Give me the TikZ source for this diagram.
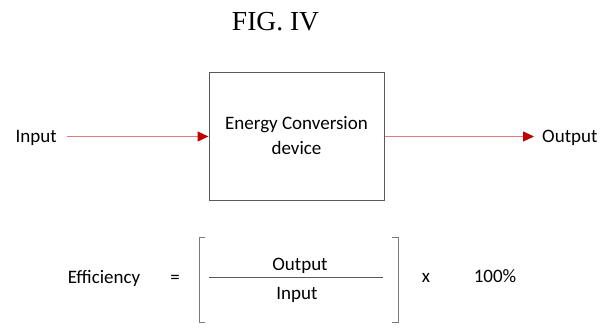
\documentclass[tikz,border=0pt]{standalone}
\usepackage{fontspec}
\setmainfont{Carlito}
\newfontfamily\titlefont{Liberation Serif}
\usetikzlibrary{arrows.meta}
\definecolor{lineRed}{HTML}{E37B7B}
\definecolor{tipRed}{HTML}{C00000}
\definecolor{boxGray}{HTML}{595959}
\tikzset{
  lbl/.style={font=\fontsize{19}{22}\selectfont, text=black, inner sep=0pt},
  flow/.style={draw=lineRed, line width=1.2pt, -{Triangle[length=11pt,width=10pt,color=tipRed,fill=tipRed]}},
  devbox/.style={draw=boxGray, line width=1pt, minimum width=175pt, minimum height=128pt, align=center, inner sep=0pt, font=\fontsize{19}{25}\selectfont},
  brk/.style={draw=boxGray!80, line width=0.9pt},
}
\begin{document}
\begin{tikzpicture}[x=1pt,y=-1pt]
\useasboundingbox (0,0) rectangle (607,329);
\node[font=\titlefont\fontsize{27.5}{30}\selectfont, anchor=base, inner sep=0pt] (title) at (275.5,31) {FIG. IV};
\node[devbox] (box) at (296.5,136) {Energy Conversion\\device};
\node[lbl, anchor=base east] (in) at (57,142.5) {Input};
\node[lbl, anchor=base west] (out) at (542,142) {Output};
\coordinate (inS) at (67,136.5);
\coordinate (outE) at (534,136.5);
\draw[flow] (inS) -- (box.west |- inS);
\draw[flow] (box.east |- outE) -- (outE);
% equation
\node[lbl, anchor=base] (eff) at (104,283) {Efficiency};
\node[lbl, anchor=base] (eq) at (175,283) {=};
\node[lbl, anchor=base] (num) at (300,270.5) {Output};
\node[lbl, anchor=base] (den) at (297,299) {Input};
\coordinate (fl) at (209,277);
\coordinate (fr) at (383,277);
\draw[draw=boxGray, line width=0.9pt] (fl) -- (fr);
\draw[brk] (205,237) -- (199,237) -- (199,322) -- (205,322);
\draw[brk] (392,237) -- (398,237) -- (398,322) -- (392,322);
\node[lbl, anchor=base] (times) at (426,282.5) {x};
\node[lbl, anchor=base] (pct) at (495,282.5) {100\%};
\end{tikzpicture}
\end{document}
